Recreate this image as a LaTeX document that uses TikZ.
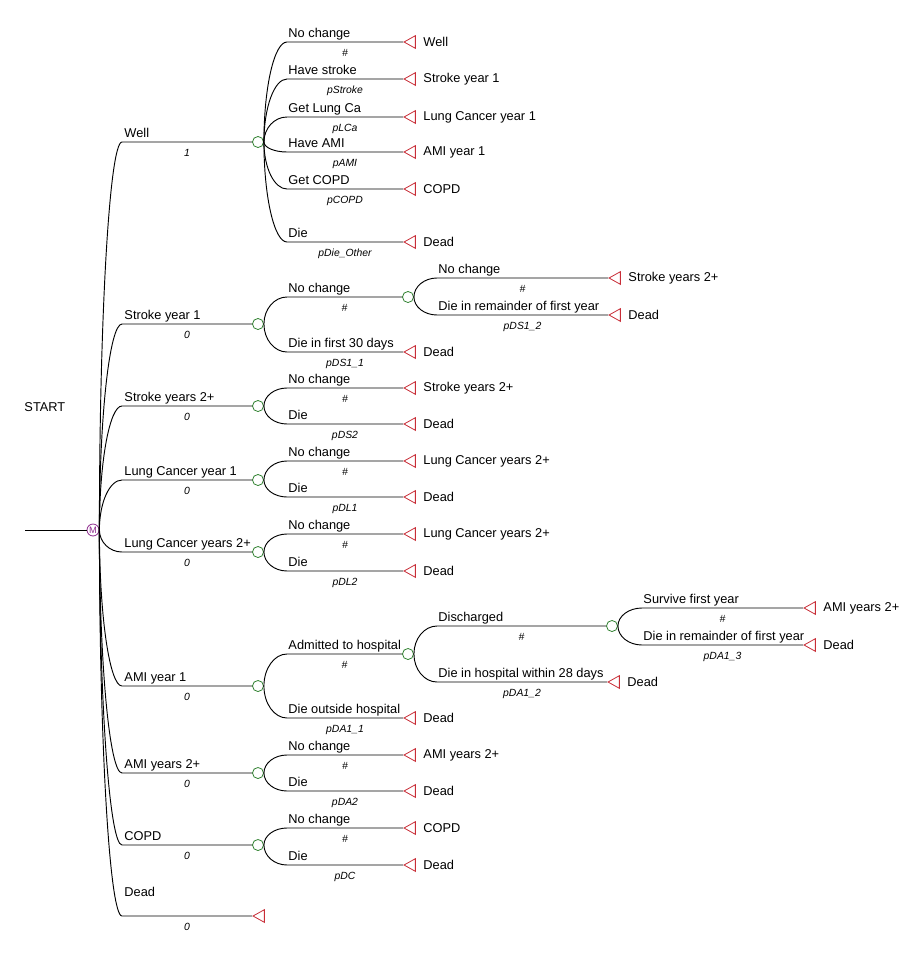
\documentclass[tikz,border=0pt]{standalone}
\usepackage{fontspec}
\setmainfont{Liberation Sans}
\usetikzlibrary{calc,shapes.geometric}
\definecolor{chancegrn}{RGB}{50,130,50}
\definecolor{termred}{RGB}{200,45,55}
\definecolor{markpur}{RGB}{140,40,140}
\tikzset{chance/.style={circle,draw=chancegrn,fill=white,inner sep=0pt,minimum size=8.3pt,line width=.6pt},
  term/.style={isosceles triangle,isosceles triangle stretches,shape border rotate=180,
    draw=termred,inner sep=0pt,minimum width=9.5pt,minimum height=8.5pt,anchor=apex,line width=.6pt},
  markov/.style={circle,draw=markpur,inner sep=0pt,minimum size=9pt,text=markpur,
    font=\fontsize{7}{7}\selectfont,line width=.6pt},
  fan/.style={to path={.. controls ($(\tikztostart)!0.55!(\tikztostart|-\tikztotarget)$)
    and ($(\tikztotarget)!0.55!(\tikztostart|-\tikztotarget)$) .. (\tikztotarget)}},
  brlbl/.style={anchor=base west,inner sep=0pt,font=\fontsize{9.6}{11}\selectfont},
  outlbl/.style={anchor=west,inner sep=0pt,font=\fontsize{9.6}{11}\selectfont},
  prlbl/.style={anchor=base,inner sep=0pt,font=\fontsize{7.8}{9}\selectfont\itshape}}

\begin{document}
\begin{tikzpicture}[x=.75pt,y=-.75pt,line width=.7pt]
\useasboundingbox (0,0) rectangle (917,957);
% root
\node[markov] (mk) at (93,530) {M};
\coordinate (in) at (25,530);
\draw (in) -- (mk.west);
\node[outlbl] (start) at (24,407) {START};
% states
\foreach \n/\y/\lab/\pr in {well/142/Well/1, s1/324/Stroke year 1/0, s2/406/Stroke years 2+/0,
  l1/480/Lung Cancer year 1/0, l2/552/Lung Cancer years 2+/0, a1/686/AMI year 1/0,
  a2/773/AMI years 2+/0, copd/845/COPD/0}{
  \coordinate (\n-b) at (122,\y);
  \node[chance] (\n) at (258,\y) {};
  \draw[fan] (mk.east) to (\n-b) -- (\n.west);
  \node[brlbl] at ($(\n-b)+(2,-5)$) {\lab};
  \node[prlbl] at ($(\n-b)!.5!(\n.west)+(0,14.5)$) {\pr};
}
\coordinate (dead-b) at (122,916);
\node[term] (dead) at (252,916) {};
\draw[fan] (mk.east) to (dead-b) -- (dead.apex);
\node[brlbl] at ($(dead-b)+(2,-20)$) {Dead};
\node[prlbl] at ($(dead-b)!.5!(dead.apex)+(0,14.5)$) {0};
% inner chance nodes
\foreach \p/\n/\xs/\xc/\y/\lab in {s1/s1n/287/408/297/No change, a1/a1h/287/408/654/Admitted to hospital,
  a1h/a1d/437/612/626/Discharged}{
  \coordinate (\n-b) at (\xs,\y);
  \node[chance] (\n) at (\xc,\y) {};
  \draw[fan] (\p.east) to (\n-b) -- (\n.west);
  \node[brlbl] at ($(\n-b)+(1,-5)$) {\lab};
  \node[prlbl] at ($(\n-b)!.5!(\n.west)+(0,14.5)$) {\#};
}
% outcomes
\foreach \p/\xs/\xe/\y/\lab/\pr/\out [count=\i] in {
  well/287/403/42/No change/\#/Well,
  well/287/403/79/Have stroke/pStroke/Stroke year 1,
  well/287/403/117/Get Lung Ca/pLCa/Lung Cancer year 1,
  well/287/403/152/Have AMI/pAMI/AMI year 1,
  well/287/403/189/Get COPD/pCOPD/COPD,
  well/287/403/242/Die/pDie\_Other/Dead,
  s1n/437/608/278/No change/\#/Stroke years 2+,
  s1n/437/608/315/Die in remainder of first year/pDS1\_2/Dead,
  s1/287/403/352/Die in first 30 days/pDS1\_1/Dead,
  s2/287/403/388/No change/\#/Stroke years 2+,
  s2/287/403/424/Die/pDS2/Dead,
  l1/287/403/461/No change/\#/Lung Cancer years 2+,
  l1/287/403/497/Die/pDL1/Dead,
  l2/287/403/534/No change/\#/Lung Cancer years 2+,
  l2/287/403/571/Die/pDL2/Dead,
  a1d/642/803/608/Survive first year/\#/AMI years 2+,
  a1d/642/803/645/Die in remainder of first year/pDA1\_3/Dead,
  a1h/437/607/682/Die in hospital within 28 days/pDA1\_2/Dead,
  a1/287/403/718/Die outside hospital/pDA1\_1/Dead,
  a2/287/403/755/No change/\#/AMI years 2+,
  a2/287/403/791/Die/pDA2/Dead,
  copd/287/403/828/No change/\#/COPD,
  copd/287/403/865/Die/pDC/Dead}{
  \coordinate (t\i-b) at (\xs,\y);
  \node[term] (t\i) at (\xe,\y) {};
  \node[outlbl] (o\i) at ($(t\i.apex)+(20,0)$) {\out};
  \draw[fan] (\p.east) to (t\i-b) -- (t\i.apex);
  \node[brlbl] at ($(t\i-b)+(1,-5)$) {\lab};
  \node[prlbl] at ($(t\i-b)!.5!(t\i.apex)+(0,14.5)$) {\pr};
}
\end{tikzpicture}
\end{document}
